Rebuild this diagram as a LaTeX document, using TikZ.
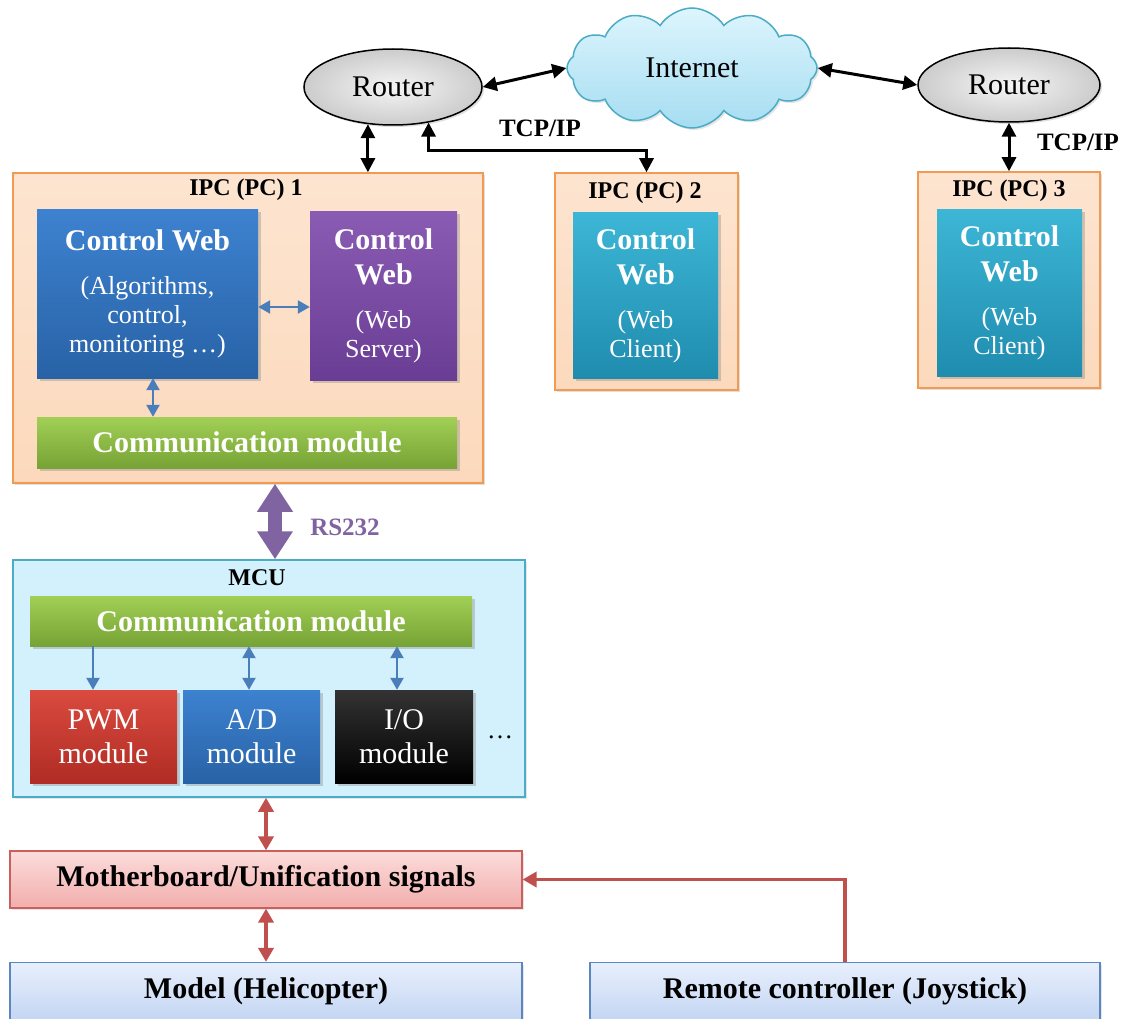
\documentclass[tikz,border=0pt]{standalone}
\usepackage{fontspec}
\setmainfont{Liberation Serif}
\usetikzlibrary{arrows.meta,shapes.geometric,shapes.symbols,shadows,calc}

\definecolor{orfill}{HTML}{FCD9BC}
\definecolor{orline}{HTML}{F39A52}
\definecolor{cwblueT}{HTML}{3D82D0}
\definecolor{cwblueB}{HTML}{2862A6}
\definecolor{purT}{HTML}{8A5BB3}
\definecolor{purB}{HTML}{6A3D94}
\definecolor{tealT}{HTML}{3DB6D6}
\definecolor{tealB}{HTML}{1F8CAE}
\definecolor{grnT}{HTML}{A2CF55}
\definecolor{grnB}{HTML}{76A335}
\definecolor{redT}{HTML}{DA4A3F}
\definecolor{redB}{HTML}{B02C24}
\definecolor{mcufill}{HTML}{D3F1FC}
\definecolor{mculine}{HTML}{4BACC6}
\definecolor{mbT}{HTML}{FBDCDB}
\definecolor{mbB}{HTML}{F2AEAC}
\definecolor{mbline}{HTML}{C9605D}
\definecolor{lbT}{HTML}{E8EFFC}
\definecolor{lbB}{HTML}{C4D6F3}
\definecolor{lbline}{HTML}{5B86C0}
\definecolor{arrblue}{HTML}{4A7EBB}
\definecolor{arrred}{HTML}{C0504D}
\definecolor{rspurple}{HTML}{8064A2}
\definecolor{cloudT}{HTML}{DDF5FD}
\definecolor{cloudB}{HTML}{A6DDF1}

\tikzset{
  pcbox/.style={rectangle, draw=orline, line width=1.5pt, top color=orfill!70!white, bottom color=orfill,
    drop shadow={shadow xshift=2pt, shadow yshift=-2pt, opacity=0.25}},
  tile/.style={rectangle, inner sep=2pt, align=center, text=white, draw=none,
    drop shadow={shadow xshift=2.5pt, shadow yshift=-2.5pt, opacity=0.35}},
  outline/.style={rectangle, inner sep=2pt, align=center, line width=1.2pt,
    drop shadow={shadow xshift=2pt, shadow yshift=-2pt, opacity=0.2}},
  boxtitle/.style={font=\fontsize{24}{26}\selectfont\bfseries, inner sep=0pt},
  router/.style={ellipse, draw=black, line width=1.5pt, shading=radial, inner color=gray!8, outer color=gray!40,
    drop shadow={shadow xshift=2pt, shadow yshift=-2pt, opacity=0.25},
    font=\fontsize{30}{32}\selectfont},
  blk/.style={{Triangle[length=14pt 0,width=14pt 0]}-{Triangle[length=14pt 0,width=14pt 0]}, line width=3pt, black},
  blu/.style={{Triangle[length=12pt 0,width=13pt 0]}-{Triangle[length=12pt 0,width=13pt 0]}, line width=2.4pt, arrblue},
  bluone/.style={-{Triangle[length=12pt 0,width=13pt 0]}, line width=2.4pt, arrblue},
  redarr/.style={{Triangle[length=14pt 0,width=15pt 0]}-{Triangle[length=14pt 0,width=15pt 0]}, line width=3.5pt, arrred},
  redone/.style={-{Triangle[length=14pt 0,width=15pt 0]}, line width=3.5pt, arrred},
  fat/.style={{Triangle[length=28pt 0,width=34pt 0]}-{Triangle[length=28pt 0,width=34pt 0]}, line width=14pt, rspurple},
  lbl/.style={font=\fontsize{25}{27}\selectfont\bfseries, inner sep=0pt},
  modfont/.style={font=\fontsize{30}{34}\selectfont},
  barfont/.style={font=\fontsize{30}{32}\selectfont\bfseries},
}

% title + subtitle block for the software tiles
\newcommand{\ttl}{\bfseries\fontsize{30}{35}\selectfont}
\newcommand{\sub}{\mdseries\fontsize{26}{29}\selectfont}
\newcommand{\tiletext}[3]{\parbox{#1}{\centering\ttl #2\par\vspace{15pt}\sub #3\par}}

\begin{document}
\begin{tikzpicture}[x=1pt,y=-1pt]
\useasboundingbox[fill=white] (0,0) rectangle (1122,1019);

% --- network ---
\node[router, minimum width=178pt, minimum height=76pt] (router1) at (393,87) {Router};
\node[router, minimum width=182pt, minimum height=74pt] (router2) at (1009,85) {Router};
\node[cloud, cloud puffs=12, cloud puff arc=115, aspect=2.1, draw=mculine, line width=1.5pt,
      top color=cloudT, bottom color=cloudB, minimum width=250pt, minimum height=120pt,
      font=\fontsize{30}{32}\selectfont,
      drop shadow={shadow xshift=2pt, shadow yshift=-2pt, opacity=0.2}] (cloud) at (692,68) {Internet};

% --- PC boxes ---
\node[pcbox, minimum width=470pt, minimum height=310pt] (ipc1) at (248,328) {};
\node[boxtitle] (ipc1t) at (246,190) {IPC (PC) 1};
\node[pcbox, minimum width=183pt, minimum height=217pt] (ipc2) at (646.5,281.5) {};
\node[boxtitle] (ipc2t) at (645,193) {IPC (PC) 2};
\node[pcbox, minimum width=182pt, minimum height=216pt] (ipc3) at (1009,280) {};
\node[boxtitle] (ipc3t) at (1009,191) {IPC (PC) 3};

\node[tile, top color=cwblueT, bottom color=cwblueB, minimum width=221pt, minimum height=168pt] (cw1) at (147.5,294)
  {\tiletext{210pt}{Control Web}{(Algorithms,\\ control,\\ monitoring …)}};
\node[tile, top color=purT, bottom color=purB, minimum width=147pt, minimum height=168pt] (cws1) at (383.5,296)
  {\tiletext{140pt}{Control\\ Web}{(Web\\ Server)}};
\node[tile, top color=grnT, bottom color=grnB, minimum width=420pt, minimum height=51pt, barfont] (com1)
  at (247,442.5) {Communication module};

\node[tile, top color=tealT, bottom color=tealB, minimum width=145pt, minimum height=165pt] (cwc2) at (645.5,295.5)
  {\tiletext{140pt}{Control\\ Web}{(Web\\ Client)}};
\node[tile, top color=tealT, bottom color=tealB, minimum width=145pt, minimum height=166pt] (cwc3) at (1009.5,293)
  {\tiletext{140pt}{Control\\ Web}{(Web\\ Client)}};

% --- MCU ---
\node[rectangle, draw=mculine, line width=1.5pt, fill=mcufill, minimum width=512pt, minimum height=237pt,
      drop shadow={shadow xshift=2pt, shadow yshift=-2pt, opacity=0.2}] (mcu) at (269,678.5) {};
\node[boxtitle] (mcut) at (257,578) {MCU};
\node[tile, top color=grnT, bottom color=grnB, minimum width=442pt, minimum height=50pt, barfont] (com2)
  at (251,621) {Communication module};
\node[tile, top color=redT, bottom color=redB, minimum width=147pt, minimum height=93pt, modfont] (pwm)
  at (103.5,736.5) {PWM\\ module};
\node[tile, top color=cwblueT, bottom color=cwblueB, minimum width=137pt, minimum height=93pt, modfont] (ad)
  at (251.5,736.5) {A/D\\ module};
\node[tile, top color=black!80, bottom color=black, minimum width=138pt, minimum height=93pt, modfont] (io)
  at (404,736.5) {I/O\\ module};
\node[font=\fontsize{26}{28}\selectfont, inner sep=0pt] (dots) at (500,737) {…};

% --- hardware side ---
\node[outline, draw=mbline, top color=mbT, bottom color=mbB, minimum width=512pt, minimum height=57pt, barfont]
  (mb) at (266,879.5) {Motherboard/Unification signals};
\node[outline, draw=lbline, top color=lbT, bottom color=lbB, minimum width=512pt, minimum height=57pt, barfont]
  (model) at (266,991) {Model (Helicopter)};
\node[outline, draw=lbline, top color=lbT, bottom color=lbB, minimum width=510pt, minimum height=57pt, barfont]
  (remote) at (845,991) {Remote controller (Joystick)};

% --- connectors: network ---
\draw[blk] (router1.east) -- (cloud.west);
\draw[blk] (cloud.east) -- (router2.west);
\draw[blk] (router1.236) -- (router1.236 |- ipc1.north);
\draw[blk] (router1.315) -- ($(router1.315)+(0,28)$) -| (ipc2.north);
\draw[blk] (router2.south) -- (ipc3.north);
\node[lbl] (tcp1) at (540,128) {TCP/IP};
\node[lbl] (tcp2) at (1078,142) {TCP/IP};

% --- connectors: inside PC 1 ---
\draw[blu] ([yshift=-13pt]cw1.east) -- ([yshift=-13pt]cw1.east -| cws1.west);
\draw[blu] ([xshift=5.5pt]cw1.south) -- ([xshift=5.5pt]cw1.south |- com1.north);

% --- serial link ---
\draw[fat] ([xshift=27pt]ipc1.south) -- ([xshift=27pt]ipc1.south |- mcu.north);
\node[lbl, text=rspurple] (rs) at (345,527) {RS232};

% --- connectors: inside MCU ---
\draw[bluone] ([xshift=-10.5pt]pwm.north |- com2.south) -- ([xshift=-10.5pt]pwm.north);
\draw[blu] ([xshift=-2.5pt]ad.north |- com2.south) -- ([xshift=-2.5pt]ad.north);
\draw[blu] ([xshift=-7pt]io.north |- com2.south) -- ([xshift=-7pt]io.north);

% --- connectors: hardware ---
\draw[redarr] (mb.north |- mcu.south) -- (mb.north);
\draw[redarr] (mb.south) -- (model.north);
\draw[redone] (remote.north) |- (mb.east);
\end{tikzpicture}
\end{document}
